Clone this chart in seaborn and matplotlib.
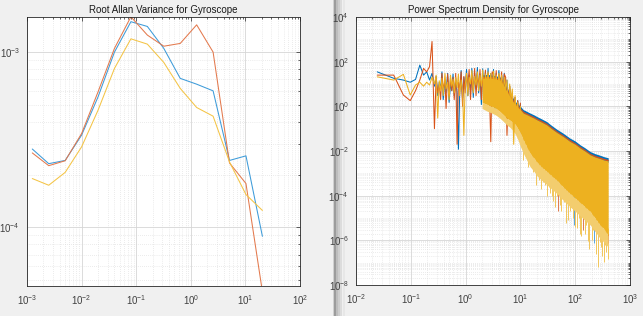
import numpy as np
import pandas as pd
import matplotlib
matplotlib.use("Agg")
import matplotlib.pyplot as plt
import seaborn as sns
from matplotlib.ticker import LogLocator, NullFormatter, LogFormatterSciNotation, FixedLocator
from matplotlib.patches import Rectangle

# ---------------- data: Root Allan variance ----------------
allan_tau = [0.00125, 0.0025, 0.005, 0.01, 0.02, 0.04, 0.08, 0.16, 0.32, 0.64, 1.28, 2.56, 5.12, 10.24, 20.48]
allan_gx = [2.80e-4, 2.31e-4, 2.41e-4, 3.36e-4, 5.55e-4, 1.00e-3, 1.49e-3, 1.40e-3, 1.05e-3, 7.08e-4, 6.56e-4, 6.01e-4, 2.41e-4, 2.56e-4, 8.9e-5]
allan_gy = [2.66e-4, 2.25e-4, 2.40e-4, 3.43e-4, 5.93e-4, 1.05e-3, 1.59e-3, 1.25e-3, 1.08e-3, 1.12e-3, 1.43e-3, 1.00e-3, 2.33e-4, 1.78e-4, 4.3e-5]
allan_gz = [1.90e-4, 1.74e-4, 2.06e-4, 2.88e-4, 4.66e-4, 8.07e-4, 1.19e-3, 1.11e-3, 8.73e-4, 6.21e-4, 4.83e-4, 4.31e-4, 2.36e-4, 1.54e-4, 1.25e-4]

# ---------------- data: PSD ----------------
# low-frequency bins (Hz)
psd_low_f = [0.0244, 0.0488, 0.0732, 0.0977, 0.122, 0.146, 0.171, 0.195, 0.220, 0.244]
psd_low_x = [35, 18, 15, 12, 16, 70, 25, 35, 15, 30]
psd_low_y = [25, 25, 3.2, 1.8, 5, 15, 50, 35, 60, 800]
psd_low_z = [21, 15, 27, 3.2, 9, 12, 8, 12, 9, 20]

# mid band (Hz)
psd_mid_f = [0.27, 0.29, 0.31, 0.33, 0.35, 0.37, 0.39, 0.42, 0.44, 0.47, 0.50, 0.53, 0.56, 0.59, 0.62, 0.66,
             0.70, 0.74, 0.78, 0.83, 0.88, 0.93, 0.98, 1.04, 1.10, 1.16, 1.23, 1.30, 1.38, 1.46, 1.55, 1.64,
             1.73, 1.83, 1.94, 2.05, 2.17, 2.30, 2.43, 2.57, 2.72, 2.88, 3.05, 3.23, 3.42, 3.62, 3.83, 4.05,
             4.29, 4.54, 4.80, 5.08, 5.38, 5.69, 6.02, 6.37, 6.74, 7.13, 7.55, 7.99, 8.45, 8.94, 9.46, 10.0]
psd_mid_x = [8, 22, 3, 12, 6, 35, 2, 15, 4, 30, 1.5, 10, 5, 28, 3, 18,
             4, 0.012, 4, 40, 2, 20, 6, 45, 3, 25, 5, 50, 2.5, 30, 6, 55,
             4, 28, 1.2, 48, 5, 35, 3, 50, 2, 30, 6, 45, 0.8, 30, 5, 40,
             3, 25, 4, 30, 2, 15, 1, 8, 0.6, 4, 0.3, 2.5, 0.2, 1.8, 0.15, 1.3]
psd_mid_y = [0.1, 20, 4, 9, 2, 30, 6, 14, 0.8, 28, 3, 18, 5, 20, 2, 30,
             0.02, 12, 6, 35, 1, 22, 4, 30, 8, 45, 2, 25, 5, 50, 3, 30,
             6, 45, 2, 25, 5, 42, 1.5, 30, 4, 0.026, 35, 28, 5, 40, 3, 25,
             6, 35, 2, 28, 20, 0.05, 3, 8, 0.8, 4, 0.5, 2.5, 0.3, 1.8, 0.2, 1.4]
psd_mid_z = [10, 25, 0.3, 14, 5, 18, 3, 30, 6, 12, 2, 25, 8, 16, 4, 20,
             7, 28, 3, 15, 5, 0.05, 8, 30, 3, 20, 10, 40, 4, 22, 9, 35,
             5, 25, 8, 42, 3, 28, 10, 35, 6, 30, 4, 38, 8, 25, 5, 30,
             7, 25, 3, 20, 6, 15, 0.5, 10, 2, 6, 0.02, 3, 0.5, 1.5, 0.1, 1.0]

# dense band (Hz) : envelopes
psd_hi_f = [2.0, 2.5, 3.0, 3.6, 4.2, 5.0, 5.6, 6.3, 7.1, 8.0, 9.0, 10, 11.3, 13, 15, 17.5, 20, 24, 30, 37, 46,
            60, 80, 100, 123, 150, 187, 230, 282, 340, 400]
psd_hi_x_top = [25, 27, 25, 23, 21, 12, 7, 4.2, 2.6, 1.7, 1.26, 1.0, 0.71, 0.6, 0.5, 0.42, 0.35, 0.28, 0.21, 0.14, 0.095,
                0.063, 0.038, 0.028, 0.019, 0.014, 0.0095, 0.0076, 0.0065, 0.0055, 0.005]
psd_hi_x_bot = [15.6, 17, 15.6, 14.4, 13, 7.5, 4.4, 2.6, 1.6, 1.06, 0.8, 0.63, 0.45, 0.38, 0.31, 0.26, 0.22, 0.175, 0.13, 0.088, 0.06,
                0.04, 0.024, 0.0175, 0.012, 0.0088, 0.006, 0.0048, 0.0041, 0.0034, 0.0031]
psd_hi_y_top = [21, 22.5, 21, 19, 17.5, 10, 5.8, 3.5, 2.2, 1.4, 1.05, 0.83, 0.6, 0.5, 0.42, 0.35, 0.29, 0.235, 0.175, 0.117, 0.079,
                0.052, 0.032, 0.023, 0.016, 0.0117, 0.0079, 0.0063, 0.0054, 0.0046, 0.0042]
psd_hi_z_top = [18, 19, 18, 16.4, 15, 8.6, 5, 3, 1.86, 1.2, 0.9, 0.71, 0.5, 0.43, 0.36, 0.3, 0.25, 0.2, 0.15, 0.1, 0.068,
                0.045, 0.027, 0.02, 0.0136, 0.01, 0.0068, 0.0054, 0.0046, 0.0039, 0.0036]
psd_hi_z_bot = [1.5, 1.2, 1.0, 0.8, 0.6, 0.4, 0.3, 0.25, 0.2, 0.16, 0.1, 0.063, 0.032, 0.016, 0.008, 0.005, 0.0032, 0.002, 0.00126, 7.9e-4, 5.0e-4,
                2.5e-4, 1.26e-4, 7.9e-5, 5.0e-5, 3.2e-5, 2.0e-5, 1.0e-5, 5.0e-6, 3.2e-6, 1.6e-6]
psd_hi_z_faint = [0.8, 0.6, 0.5, 0.4, 0.3, 0.2, 0.15, 0.12, 0.09, 0.06, 0.032, 0.016, 0.008, 0.004, 0.002, 0.00126, 7.9e-4, 5.0e-4, 3.2e-4, 2.0e-4, 1.26e-4,
                  6.3e-5, 3.2e-5, 2.0e-5, 1.26e-5, 7.9e-6, 5.0e-6, 2.5e-6, 1.26e-6, 7.9e-7, 5.0e-7]

# deep dips in the dense band
dip_z_f = [11, 12, 13, 14, 16, 17, 19, 22, 24, 26, 28, 31, 33, 35, 38, 40, 43, 47, 53, 56, 62, 69, 75, 82, 90,
           100, 110, 115, 123, 130, 150, 160, 170, 180, 200, 210, 240, 262, 280, 300, 310, 330, 350, 370, 390]
dip_z_lo = [0.004, 0.008, 0.009, 0.002, 0.004, 0.0012, 3e-4, 5e-4, 2e-4, 4.3e-4, 3e-4, 1e-4, 2.5e-4, 1.3e-4, 1e-4, 6e-5, 3e-5, 1e-4, 4e-5, 2e-5, 5e-5, 6e-6, 8e-6, 2e-5, 1e-5,
            4e-6, 3.5e-6, 1e-5, 2e-6, 1.5e-6, 2e-6, 5e-6, 9e-7, 4e-7, 1e-6, 3e-6, 2.5e-7, 6.6e-8, 8e-7, 5e-7, 2e-7, 1.1e-7, 6e-7, 3e-7, 1.5e-7]
dip_z_hi = [0.07, 0.05, 0.04, 0.024, 0.012, 0.011, 0.008, 0.005, 0.004, 0.0032, 0.0028, 0.0024, 0.002, 0.0018, 0.0016, 0.0014, 0.0012, 0.001, 8e-4, 6e-4, 5e-4, 4e-4, 3e-4, 2.4e-4, 2e-4,
            1.6e-4, 1.3e-4, 1.2e-4, 1e-4, 9e-5, 6.4e-5, 6e-5, 5e-5, 4.4e-5, 4e-5, 2.8e-5, 1.8e-5, 1.4e-5, 1e-5, 8e-6, 8e-6, 7e-6, 6e-6, 5e-6, 3.6e-6]
dip_x_f = [220, 95]
dip_x_lo = [7.5e-7, 5e-6]
dip_x_hi = [1e-5, 1e-4]
dip_y_f = [400, 48, 140]
dip_y_lo = [7.6e-7, 2e-5, 3e-6]
dip_y_hi = [2e-6, 2e-4, 3e-5]

C_BLUE = "#0072BD"
C_RED = "#D95319"
C_YEL = "#EDB120"

# ---------------- style ----------------
sns.set_theme(style="white")
plt.rcParams["font.family"] = ["Liberation Sans", "DejaVu Sans"]
plt.rcParams["mathtext.default"] = "regular"

fig = plt.figure(figsize=(6.43, 3.16), dpi=100)
fig.patch.set_facecolor("#f0f0f0")

W, H = 643.0, 316.0
def ax_rect(x0, x1, y0, y1):
    return [x0 / W, (H - y1) / H, (x1 - x0) / W, (y1 - y0) / H]

# window divider
for (xa, xb, col) in [(332.5, 333.5, "#d0d0d0"), (333.5, 336.0, "#9c9c9c"), (336.0, 338.0, "#bdbdbd"),
                      (338.0, 340.0, "#cdcdcd"), (340.0, 342.5, "#dcdcdc"), (342.5, 345.0, "#e7e7e7")]:
    fig.patches.append(Rectangle((xa / W, 0), (xb - xa) / W, 1, transform=fig.transFigure,
                                 facecolor=col, edgecolor="none", zorder=-10))

def style_axes(ax):
    ax.set_facecolor("white")
    for s in ax.spines.values():
        s.set_color("#262626")
        s.set_linewidth(0.6)
    ax.tick_params(which="both", direction="in", top=True, right=True, colors="#262626",
                   labelcolor="#404040", labelsize=7, width=0.5)
    ax.tick_params(which="major", length=3)
    ax.tick_params(which="minor", length=1.6)
    ax.tick_params(axis="y", pad=5)
    ax.tick_params(axis="x", pad=5)
    ax.grid(which="major", color="#d6d6d6", linestyle="-", linewidth=0.6)
    ax.grid(which="minor", color="#d9d9d9", linestyle=(0, (1, 2)), linewidth=0.5)
    ax.set_axisbelow(True)
    ax.set_xlabel("")
    ax.set_ylabel("")

# ---------------- left: Allan ----------------
ax1 = fig.add_axes(ax_rect(27, 300, 17, 286))
ax1.set_xscale("log")
ax1.set_yscale("log")
df_allan = pd.DataFrame({"tau": allan_tau * 3,
                         "adev": allan_gx + allan_gy + allan_gz,
                         "axis": ["x"] * 15 + ["y"] * 15 + ["z"] * 15})
sns.lineplot(data=df_allan, x="tau", y="adev", hue="axis", palette=["#3d9bd9", "#e3794d", "#f4c445"],
             estimator=None, sort=False, linewidth=0.75, legend=False, ax=ax1)
ax1.set_xlim(1e-3, 1e2)
ax1.set_ylim(10 ** -4.334, 10 ** -2.80)
ax1.xaxis.set_major_locator(LogLocator(base=10, numticks=20))
ax1.xaxis.set_minor_locator(LogLocator(base=10, subs=np.arange(2, 10), numticks=50))
ax1.yaxis.set_major_locator(LogLocator(base=10, numticks=20))
ax1.yaxis.set_minor_locator(LogLocator(base=10, subs=np.arange(2, 10), numticks=50))
ax1.xaxis.set_major_formatter(LogFormatterSciNotation())
ax1.yaxis.set_major_formatter(LogFormatterSciNotation())
ax1.xaxis.set_minor_formatter(NullFormatter())
ax1.yaxis.set_minor_formatter(NullFormatter())
style_axes(ax1)
ax1.set_title("Root Allan Variance for Gyroscope", fontsize=7, color="#1a1a1a", pad=3)

# ---------------- right: PSD ----------------
ax2 = fig.add_axes(ax_rect(356, 630, 17, 285))
ax2.set_xscale("log")
ax2.set_yscale("log")

# dips (behind the fills)
ax2.vlines(dip_z_f, dip_z_lo, dip_z_hi, color="#f2c65a", linewidth=0.7, zorder=2)
ax2.vlines(dip_x_f, dip_x_lo, dip_x_hi, color="#5aa6dc", linewidth=0.7, zorder=2)
ax2.vlines(dip_y_f, dip_y_lo, dip_y_hi, color="#e07a4c", linewidth=0.7, zorder=2)

for low, mid, top, bot, col, z in [
    (psd_low_x, psd_mid_x, psd_hi_x_top, psd_hi_x_bot, C_BLUE, 3),
    (psd_low_y, psd_mid_y, psd_hi_y_top, psd_hi_z_top, C_RED, 4),
    (psd_low_z, psd_mid_z, psd_hi_z_top, psd_hi_z_bot, C_YEL, 5),
]:
    sns.lineplot(x=psd_low_f + psd_mid_f, y=low + mid, estimator=None, sort=False,
                 color=col, linewidth=0.75, ax=ax2, zorder=z)
    ax2.fill_between(psd_hi_f, bot, top, color=col, linewidth=0, zorder=z)
ax2.fill_between(psd_hi_f, psd_hi_z_faint, psd_hi_z_bot, color="#f3cd6e", linewidth=0, zorder=4.5)

ax2.set_xlim(1e-2, 1e3)
ax2.set_ylim(1e-8, 1e4)
ax2.xaxis.set_major_locator(LogLocator(base=10, numticks=20))
ax2.xaxis.set_minor_locator(LogLocator(base=10, subs=np.arange(2, 10), numticks=50))
ax2.yaxis.set_major_locator(FixedLocator([1e-8, 1e-6, 1e-4, 1e-2, 1e0, 1e2, 1e4]))
ax2.yaxis.set_minor_locator(LogLocator(base=10, subs=np.arange(1, 10), numticks=50))
ax2.xaxis.set_major_formatter(LogFormatterSciNotation())
ax2.yaxis.set_major_formatter(LogFormatterSciNotation())
ax2.xaxis.set_minor_formatter(NullFormatter())
ax2.yaxis.set_minor_formatter(NullFormatter())
style_axes(ax2)
ax2.set_title("Power Spectrum Density for Gyroscope", fontsize=7, color="#1a1a1a", pad=3)

fig.savefig("out.png", dpi=100, facecolor=fig.get_facecolor())
